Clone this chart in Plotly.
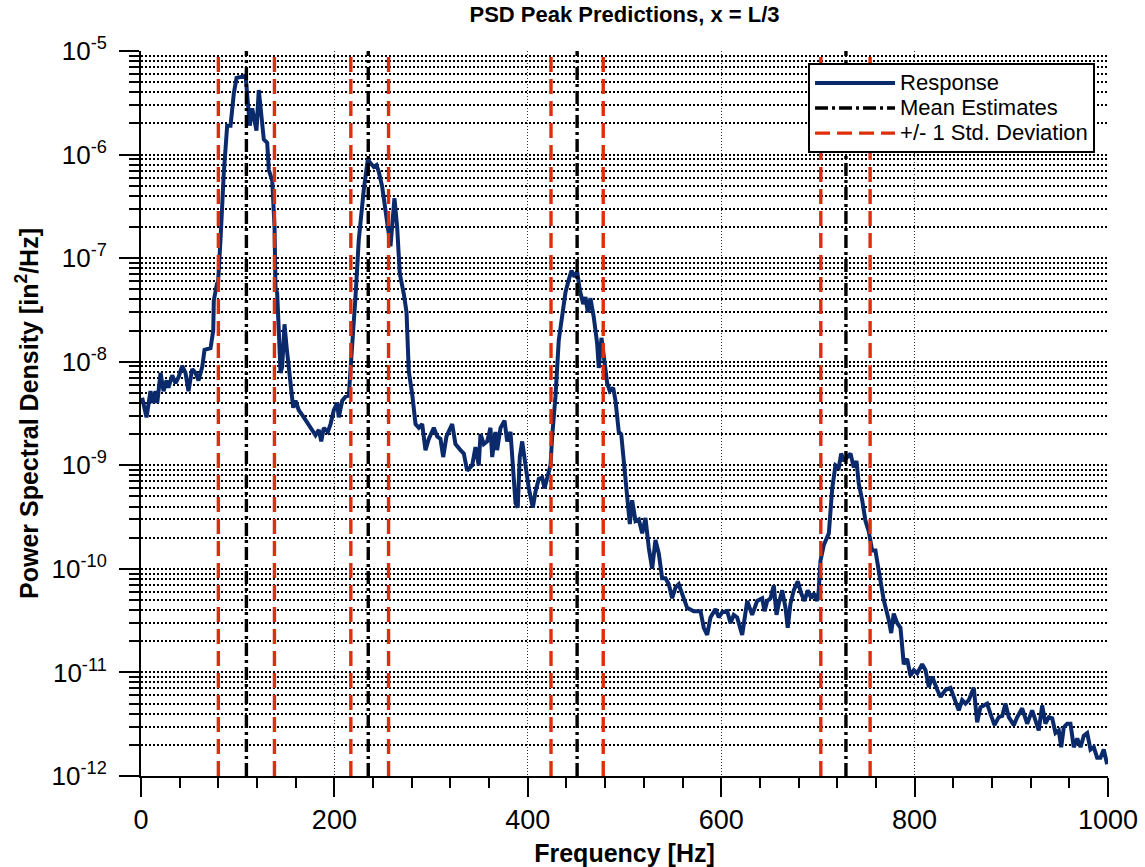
import plotly.graph_objects as go

# ---------------- data ----------------
freq_hz = [
    1.2, 5.7, 9.8, 12.6, 15.0, 16.8, 20.2, 23.3, 26.4, 28.4, 32.3, 35.7, 38.8, 42.6, 46.0, 49.1,
    52.9, 56.4, 59.5, 63.3, 65.7, 71.9, 74.7, 75.3, 78.8,
    79.4, 82.2, 85.6, 89.1, 92.6, 96.0, 98.8, 102.9, 106.3, 108.1, 109.8, 112.5, 115.0, 117.4,
    119.4, 121.8, 123.6, 125.3, 127.0, 130.5, 132.2, 135.7, 138.1, 139.1, 140.8, 142.5, 144.3,
    146.0, 148.4, 150.5, 154.6, 157.4, 159.8, 163.2, 168.4, 175.3, 180.5, 183.9, 186.4, 189.0,
    193.2, 196.0, 199.4, 202.9, 204.5, 208.1, 211.5, 214.9, 216.6, 219.4, 221.8,
    225.2, 230.4, 234.5, 237.3, 240.7, 243.5, 245.9, 249.4, 252.8, 256.3, 258.0, 259.8, 262.1,
    264.9, 267.6, 271.8, 274.6, 276.9, 280.4, 283.9, 287.3, 290.8, 294.2, 297.6, 302.8, 306.3,
    309.7, 312.5, 315.9, 321.8, 325.2, 330.4, 333.8, 337.3, 342.5, 345.9, 349.3, 351.1, 354.5,
    358.0, 361.4, 363.2, 366.6, 368.3, 371.8, 375.9, 378.7, 382.1, 387.3, 389.6, 391.7, 394.2,
    397.6, 401.0, 405.2, 408.0, 411.4, 414.9, 417.3, 420.0, 423.5, 425.2, 428.6, 432.0, 435.6,
    439.0, 442.4, 445.2, 448.3, 451.1, 453.8, 457.3, 459.7, 462.0, 464.8, 468.2, 471.7, 473.4,
    476.2, 479.3, 482.1, 484.8, 488.3, 490.7, 494.1, 496.6, 500.0, 502.8, 505.5, 507.9, 511.4,
    514.8, 518.3, 521.7, 525.1, 528.6, 532.0, 535.5, 538.9, 542.4, 545.8, 549.3, 552.7, 556.1,
    559.7, 564.8, 571.6, 578.6, 582.0, 585.5, 588.9, 594.1, 597.5, 601.0, 606.2, 609.6, 613.0,
    616.5, 621.7, 626.9, 632.0, 637.2, 642.4, 644.8, 647.6, 651.0, 654.4, 657.2, 659.5, 663.1,
    666.5, 668.8, 671.6, 675.0, 679.2, 682.7, 686.1, 689.5, 693.1, 695.7, 699.3, 700.9, 702.7,
    706.1, 711.3, 714.8, 718.2, 721.6, 724.1, 726.8, 730.3, 733.7, 737.1, 739.9, 742.3, 745.8,
    749.2, 752.6, 756.1, 759.5, 763.0, 766.5, 768.1, 773.3, 775.8, 778.4, 782.0, 785.4, 788.8,
    792.3, 795.7, 799.2, 802.7, 807.8, 811.3, 814.7, 818.2, 823.4, 826.8, 832.0, 837.1, 840.5,
    845.7, 849.2, 852.6, 856.0, 861.2, 864.7, 868.1, 871.5, 875.0, 878.4, 882.6, 887.0, 890.6,
    894.0, 897.4, 902.6, 906.1, 911.2, 916.4, 921.6, 925.0, 928.4, 931.9, 935.3, 938.8, 942.3,
    945.7, 949.1, 951.6, 954.3, 957.8, 961.2, 964.6, 968.2, 971.6, 975.0, 978.5, 981.9, 985.3,
    988.8, 992.2, 995.6, 999.1,
]

psd_response = [
    4.5e-9, 2.9e-9, 5.2e-9, 4.0e-9, 5.2e-9, 4.0e-9, 7.8e-9, 5.2e-9, 6.6e-9, 5.6e-9, 7.4e-9, 6.2e-9,
    7.1e-9, 9.1e-9, 7.8e-9, 5.2e-9, 8.5e-9, 7.8e-9, 6.6e-9, 8.9e-9, 1.3e-8, 1.35e-8, 2.0e-8, 3.9e-8,
    5.8e-8,
    5.2e-8, 1.5e-7, 6.6e-7, 1.9e-6, 1.9e-6, 3.9e-6, 5.5e-6, 5.6e-6, 5.6e-6, 5.9e-6, 3.4e-6, 1.9e-6,
    2.8e-6, 2.1e-6, 1.7e-6, 4.2e-6, 2.7e-6, 1.9e-6, 1.4e-6, 1.3e-6, 7.1e-7, 5.6e-7, 2.0e-7, 5.2e-8,
    4.6e-8, 2.0e-8, 7.8e-9, 8.9e-9, 2.3e-8, 1.4e-8, 6.6e-9, 3.6e-9, 4.2e-9, 3.4e-9, 2.9e-9, 2.3e-9,
    1.95e-9, 2.2e-9, 1.7e-9, 2.3e-9, 2.1e-9, 2.5e-9, 3.4e-9, 4.0e-9, 2.9e-9, 4.2e-9, 4.6e-9, 4.7e-9,
    9.5e-9, 2.0e-8, 4.2e-8,
    1.5e-7, 4.6e-7, 8.9e-7, 8.3e-7, 7.6e-7, 7.9e-7, 6.8e-7, 4.9e-7, 3.1e-7, 1.7e-7, 1.3e-7, 2.3e-7,
    3.8e-7, 2.0e-7, 7.1e-8, 4.5e-8, 3.0e-8, 8.1e-9, 4.9e-9, 2.5e-9, 2.3e-9, 2.5e-9, 1.4e-9, 1.8e-9,
    2.3e-9, 1.9e-9, 1.8e-9, 1.2e-9, 1.9e-9, 2.5e-9, 1.6e-9, 1.4e-9, 1.3e-9, 8.9e-10, 1.0e-9, 1.5e-9,
    1.0e-9, 2.0e-9, 1.6e-9, 1.7e-9, 2.3e-9, 1.2e-9, 2.1e-9, 1.4e-9, 2.3e-9, 2.7e-9, 1.7e-9, 2.1e-9,
    4.3e-10, 3.9e-10, 1.2e-9, 1.7e-9, 1.0e-9, 6.0e-10, 3.9e-10, 5.6e-10, 7.4e-10, 7.6e-10, 6.0e-10,
    7.6e-10, 1.0e-9, 1.9e-9, 4.6e-9, 1.6e-8, 2.7e-8, 4.7e-8, 6.2e-8, 7.6e-8, 6.6e-8, 7.4e-8, 4.9e-8,
    3.6e-8, 4.2e-8, 3.0e-8, 4.1e-8, 2.7e-8, 1.5e-8, 8.7e-9, 1.7e-8, 9.5e-9, 6.2e-9, 5.2e-9, 5.6e-9,
    4.2e-9, 2.1e-9, 2.0e-9, 8.9e-10, 5.6e-10, 2.7e-10, 4.6e-10, 2.9e-10, 3.0e-10, 2.2e-10, 3.1e-10,
    1.6e-10, 1.0e-10, 1.9e-10, 1.4e-10, 8.1e-11, 8.1e-11, 7.1e-11, 5.2e-11, 6.6e-11, 7.1e-11,
    5.8e-11, 4.2e-11, 3.9e-11, 3.9e-11, 2.7e-11, 2.3e-11, 3.4e-11, 4.1e-11, 3.4e-11, 3.8e-11,
    3.9e-11, 3.0e-11, 3.6e-11, 3.4e-11, 2.3e-11, 4.9e-11, 3.6e-11, 4.9e-11, 5.2e-11, 3.9e-11,
    4.9e-11, 5.2e-11, 6.9e-11, 3.6e-11, 4.6e-11, 6.2e-11, 4.2e-11, 2.7e-11, 4.6e-11, 6.2e-11,
    7.6e-11, 5.8e-11, 4.9e-11, 6.2e-11, 5.2e-11, 5.8e-11, 4.9e-11, 6.2e-11, 1.2e-10, 1.7e-10,
    2.2e-10, 6.0e-10, 1.0e-9, 9.5e-10, 1.3e-9, 1.1e-9, 1.2e-9, 1.3e-9, 9.5e-10, 1.1e-9, 6.6e-10,
    4.6e-10, 2.9e-10, 2.3e-10, 1.5e-10, 1.5e-10, 9.5e-11, 5.8e-11, 5.0e-11, 3.2e-11, 2.4e-11,
    3.7e-11, 3.0e-11, 2.7e-11, 1.2e-11, 1.35e-11, 9.3e-12, 1.05e-11, 9.8e-12, 1.2e-11, 1.05e-11,
    7.2e-12, 9.1e-12, 6.8e-12, 5.8e-12, 6.8e-12, 7.1e-12, 5.8e-12, 4.3e-12, 5.4e-12, 5.0e-12,
    5.4e-12, 7.1e-12, 3.3e-12, 4.6e-12, 4.8e-12, 5.0e-12, 4.0e-12, 3.1e-12, 3.7e-12, 3.8e-12,
    5.0e-12, 3.7e-12, 3.1e-12, 3.7e-12, 4.5e-12, 3.2e-12, 4.3e-12, 3.5e-12, 2.75e-12, 4.8e-12,
    3.2e-12, 3.7e-12, 3.6e-12, 2.6e-12, 2.75e-12, 1.9e-12, 2.95e-12, 3.2e-12, 3.2e-12, 1.9e-12,
    2.3e-12, 1.9e-12, 2.45e-12, 2.6e-12, 1.8e-12, 1.9e-12, 1.5e-12, 1.5e-12, 1.8e-12, 1.3e-12,
]

mean_estimates_hz = [109, 235, 451, 729]
std_dev_bounds_hz = [80, 138, 217, 256, 424, 478, 703, 754]

series_names = ["Response", "Mean Estimates", "+/- 1 Std. Deviation"]
x_tick_vals = [0, 200, 400, 600, 800, 1000]
y_tick_exponents = [-12, -11, -10, -9, -8, -7, -6, -5]

# ---------------- styling ----------------
FONT = "Liberation Sans, Arial, sans-serif"
NAVY = "#0b2a6c"
RED = "#de2f0b"
Y_LO, Y_HI = 1e-12, 1e-5


def legend_label(s):
    return '<span style="font-size:22px">%s</span>' % s


def vlines(xs):
    xv, yv = [], []
    for v in xs:
        xv += [v, v, None]
        yv += [Y_LO, Y_HI, None]
    return xv, yv


fig = go.Figure()

fig.add_trace(go.Scatter(
    x=freq_hz, y=psd_response, mode="lines", name=legend_label(series_names[0]),
    line=dict(color=NAVY, width=4), hoverinfo="skip",
))

mx, my = vlines(mean_estimates_hz)
fig.add_trace(go.Scatter(
    x=mx, y=my, mode="lines", name=legend_label(series_names[1]),
    line=dict(color="black", width=3.4, dash="13px,4px,3px,4px"), hoverinfo="skip",
))

sx, sy = vlines(std_dev_bounds_hz)
fig.add_trace(go.Scatter(
    x=sx, y=sy, mode="lines", name=legend_label(series_names[2]),
    line=dict(color=RED, width=3.4, dash="15px,7px"), hoverinfo="skip",
))

minor_y = [k * 10.0 ** e for e in range(-12, -5) for k in range(2, 10)]

fig.update_layout(
    width=1145, height=867,
    margin=dict(l=141, r=37, t=51, b=91, autoexpand=False),
    paper_bgcolor="white", plot_bgcolor="white",
    font=dict(family=FONT, color="black"),
    title=dict(
        text="<b>PSD Peak Predictions, x = L/3</b>",
        x=0.5, xref="paper", xanchor="center",
        y=1 - 14 / 867, yref="container", yanchor="middle",
        font=dict(size=22, family=FONT, color="black"),
    ),
    showlegend=True,
    legend=dict(
        x=0.9866, y=0.983, xanchor="right", yanchor="top",
        bgcolor="white", bordercolor="black", borderwidth=2,
        font=dict(size=17, family=FONT, color="black"),
        tracegroupgap=0, itemwidth=80,
    ),
)

fig.update_xaxes(
    range=[0, 1000], tickmode="array", tickvals=x_tick_vals,
    ticktext=[str(v) for v in x_tick_vals],
    tickfont=dict(size=27, family=FONT, color="black"),
    ticks="outside", ticklen=19, tickwidth=2, tickcolor="black",
    showline=True, linecolor="black", linewidth=2, mirror=False,
    showgrid=True, gridcolor="#333333", gridwidth=1, griddash="1px,2px",
    zeroline=False, automargin=False,
    minor=dict(dtick=40, tick0=0, ticks="outside", ticklen=10, tickwidth=2,
               tickcolor="black", showgrid=False),
    title=dict(text="<b>Frequency [Hz]</b>",
               font=dict(size=25, family=FONT, color="black"), standoff=11),
)

fig.update_yaxes(
    type="log", range=[-12, -5], tickmode="array",
    tickvals=[10.0 ** e for e in y_tick_exponents],
    ticktext=["10<sup>%d</sup>" % e for e in y_tick_exponents],
    tickfont=dict(size=26, family=FONT, color="black"),
    ticks="outside", ticklen=20, tickwidth=2, tickcolor="black",
    ticklabelstandoff=7,
    showline=True, linecolor="black", linewidth=2, mirror=False,
    showgrid=True, gridcolor="black", gridwidth=2, griddash="2px,2px",
    zeroline=False, automargin=False,
    minor=dict(tickmode="array", tickvals=minor_y, ticks="outside", ticklen=10,
               tickwidth=2, tickcolor="black", showgrid=True,
               gridcolor="black", gridwidth=2, griddash="2px,2px"),
    title=dict(text="<b>Power Spectral Density [in<sup>2</sup>/Hz]</b>",
               font=dict(size=25, family=FONT, color="black"), standoff=6),
)

fig.write_html(
    "out.html",
    config={"displayModeBar": False},
    post_script="document.body.style.margin='0px';document.body.style.overflow='hidden';",
)
